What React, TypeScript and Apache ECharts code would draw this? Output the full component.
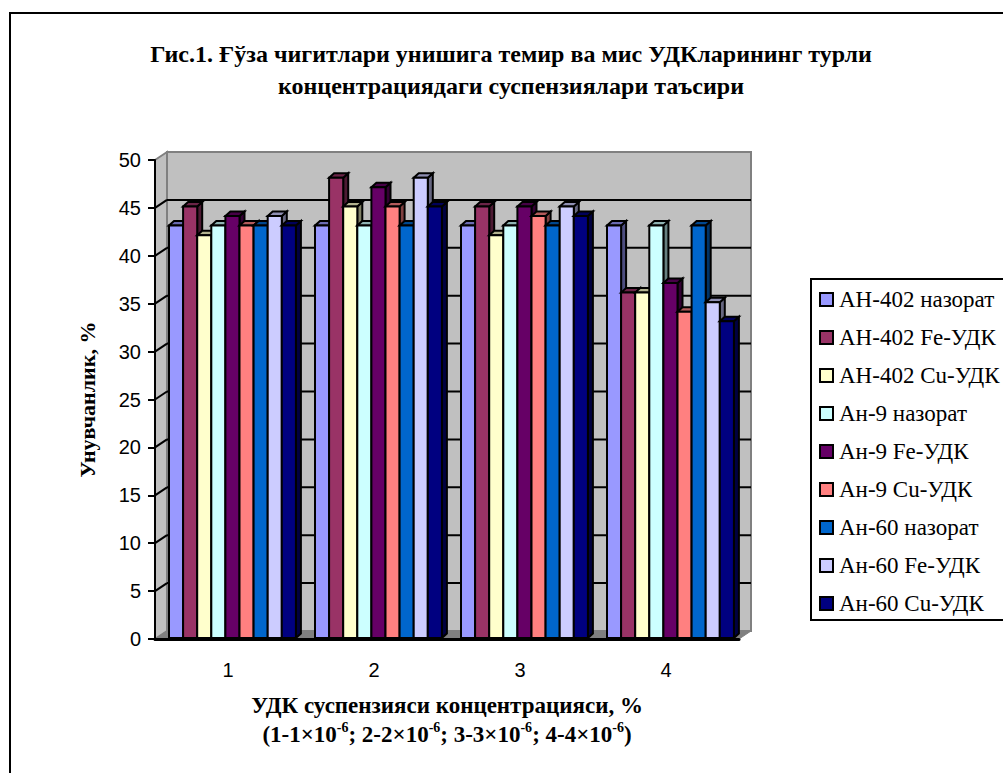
import React, { useEffect, useRef } from "react";
import * as echarts from "echarts";

const categories = ["1", "2", "3", "4"];
const yTicks = [5, 10, 15, 20, 25, 30, 35, 40, 45];
const seriesNames = [
  "АН-402 назорат",
  "АН-402 Fe-УДК",
  "АН-402 Cu-УДК",
  "Ан-9 назорат",
  "Ан-9 Fe-УДК",
  "Ан-9 Cu-УДК",
  "Ан-60 назорат",
  "Ан-60 Fe-УДК",
  "Ан-60 Cu-УДК",
];
const colors = ["#9999FF", "#993366", "#FFFFCC", "#CCFFFF", "#660066", "#FF8080", "#0066CC", "#CCCCFF", "#000080"];

const an402Control = [43, 43, 43, 43];
const an402Fe = [45, 48, 45, 36];
const an402Cu = [42, 45, 42, 36];
const an9Control = [43, 43, 43, 43];
const an9Fe = [44, 47, 45, 37];
const an9Cu = [43, 45, 44, 34];
const an60Control = [43, 43, 43, 43];
const an60Fe = [44, 48, 45, 35];
const an60Cu = [43, 45, 44, 33];
const seriesValues = [an402Control, an402Fe, an402Cu, an9Control, an9Fe, an9Cu, an60Control, an60Fe, an60Cu];

const titleText = "Гис.1. Ғўза чигитлари унишига темир ва мис УДКларининг турли\nконцентрациядаги суспензиялари таъсири";
const yName = "Унувчанлик, %";
const xName =
  "УДК суспензияси концентрацияси, %\n(1-1×10{sup|-6}; 2-2×10{sup|-6}; 3-3×10{sup|-6}; 4-4×10{sup|-6})";

const SERIF = "'Liberation Serif', 'Times New Roman', serif";
const SANS = "'Liberation Sans', Arial, sans-serif";
const DX = 12;
const DY = 8;
const BAR_W = 14.1;
const BAR_LEAD = 14;
const BAR_DX = 5;
const BAR_DY = 4.5;

function shade(hex: string, k: number) {
  const n = parseInt(hex.slice(1), 16);
  const f = (v: number) => Math.round(v * k);
  return `rgb(${f((n >> 16) & 255)},${f((n >> 8) & 255)},${f(n & 255)})`;
}

const wallRender = (params: any) => {
  const c = params.coordSys;
  const l = c.x, r = c.x + c.width, t = c.y, b = c.y + c.height;
  return {
    type: "group",
    children: [
      { type: "polygon", shape: { points: [[l + DX, t - DY], [r + DX, t - DY], [r + DX, b - DY], [l + DX, b - DY]] }, style: { fill: "#C0C0C0", stroke: "#808080", lineWidth: 2 } },
      { type: "polygon", shape: { points: [[l, t], [l + DX, t - DY], [l + DX, b - DY], [l, b]] }, style: { fill: "#C0C0C0", stroke: "#808080", lineWidth: 2 } },
      { type: "polygon", shape: { points: [[l, b], [l + DX, b - DY], [r + DX, b - DY], [r, b]] }, style: { fill: "#808080", stroke: "#808080", lineWidth: 1 } },
    ],
  };
};

const gridRender = (params: any, api: any) => {
  const c = params.coordSys;
  const y = api.coord([0, api.value(1)])[1];
  const l = c.x, r = c.x + c.width;
  const line = { stroke: "#000", lineWidth: 2 };
  return {
    type: "group",
    children: [
      { type: "line", shape: { x1: l, y1: y, x2: l + DX, y2: y - DY }, style: line },
      { type: "line", shape: { x1: l + DX, y1: y - DY, x2: r + DX, y2: y - DY }, style: line },
    ],
  };
};

const barRender = (s: number) => (_params: any, api: any) => {
  const [cx, yTop] = api.coord([api.value(0), api.value(1)]);
  const band = api.size([1, 0])[0];
  const base = api.coord([api.value(0), 0])[1] - 1;
  const top = yTop - 1.5;
  const x0 = cx - band / 2 + BAR_LEAD + s * BAR_W;
  const x1 = x0 + BAR_W;
  const col = colors[s];
  const edge = { stroke: "#000", lineWidth: 2, lineJoin: "miter" };
  return {
    type: "group",
    children: [
      { type: "polygon", shape: { points: [[x1, top], [x1 + BAR_DX, top - BAR_DY], [x1 + BAR_DX, base - BAR_DY], [x1, base]] }, style: { fill: shade(col, 0.5), ...edge } },
      { type: "polygon", shape: { points: [[x0, top], [x0 + BAR_DX, top - BAR_DY], [x1 + BAR_DX, top - BAR_DY], [x1, top]] }, style: { fill: shade(col, 0.7), ...edge } },
      { type: "rect", shape: { x: x0, y: top, width: BAR_W, height: base - top }, style: { fill: col, ...edge } },
    ],
  };
};

export default function App() {
  const ref = useRef<HTMLDivElement>(null);
  useEffect(() => {
    const chart = echarts.init(ref.current!, null, { renderer: "svg" });
    chart.setOption({
      animation: false,
      backgroundColor: "#fff",
      title: {
        text: titleText,
        left: 506,
        top: 33,
        textAlign: "center",
        textStyle: { fontFamily: SERIF, fontWeight: "bold", fontSize: 24, lineHeight: 32, color: "#000" },
      },
      grid: { left: 155, top: 160, width: 584, height: 479 },
      xAxis: {
        type: "category",
        data: categories,
        z: 10,
        axisLine: { lineStyle: { color: "#000", width: 3 } },
        axisTick: { length: 7, lineStyle: { color: "#000", width: 2 } },
        axisLabel: { fontFamily: SANS, fontSize: 20, color: "#000", margin: 21 },
        name: xName,
        nameLocation: "middle",
        nameGap: 52,
        nameTextStyle: {
          fontFamily: SERIF,
          fontWeight: "bold",
          fontSize: 23,
          lineHeight: 29,
          color: "#000",
          rich: {
            sup: { fontFamily: SERIF, fontWeight: "bold", fontSize: 14, lineHeight: 22, verticalAlign: "top", color: "#000" },
          },
        },
      },
      yAxis: {
        type: "value",
        min: 0,
        max: 50,
        interval: 5,
        z: 10,
        splitLine: { show: false },
        axisLine: { show: true, lineStyle: { color: "#000", width: 2 } },
        axisTick: { show: true, length: 7, lineStyle: { color: "#000", width: 2 } },
        axisLabel: { fontFamily: SANS, fontSize: 20, color: "#000", margin: 14 },
        name: yName,
        nameLocation: "middle",
        nameRotate: 90,
        nameGap: 57,
        nameTextStyle: { fontFamily: SERIF, fontWeight: "bold", fontSize: 22, color: "#000" },
      },
      legend: {
        orient: "vertical",
        left: 819,
        top: 288,
        padding: 0,
        itemWidth: 13,
        itemHeight: 13,
        itemGap: 15,
        icon: "rect",
        data: seriesNames,
        selectedMode: false,
        itemStyle: { borderColor: "#000", borderWidth: 2 },
        textStyle: { fontFamily: SERIF, fontSize: 23, color: "#000", padding: [0, 0, 0, 1] },
      },
      graphic: [
        { type: "rect", shape: { x: 10, y: 13, width: 1100, height: 900 }, style: { fill: "none", stroke: "#000", lineWidth: 2 } },
        { type: "rect", shape: { x: 811, y: 279, width: 300, height: 341 }, style: { fill: "none", stroke: "#000", lineWidth: 2 } },
      ],
      series: [
        { type: "custom", name: "wall", z: 1, silent: true, renderItem: wallRender, data: [[0, 0]] },
        { type: "custom", name: "grid", z: 1, silent: true, renderItem: gridRender, data: yTicks.map((v) => [0, v]) },
        ...seriesNames.map((name, s) => ({
          type: "custom",
          name,
          z: 2,
          silent: true,
          itemStyle: { color: colors[s] },
          renderItem: barRender(s),
          encode: { x: 0, y: 1 },
          data: seriesValues[s].map((v, c) => [c, v]),
        })),
      ],
    });
    return () => chart.dispose();
  }, []);
  return <div ref={ref} style={{ position: "fixed", left: 0, top: 0, width: 1003, height: 773 }} />;
}
